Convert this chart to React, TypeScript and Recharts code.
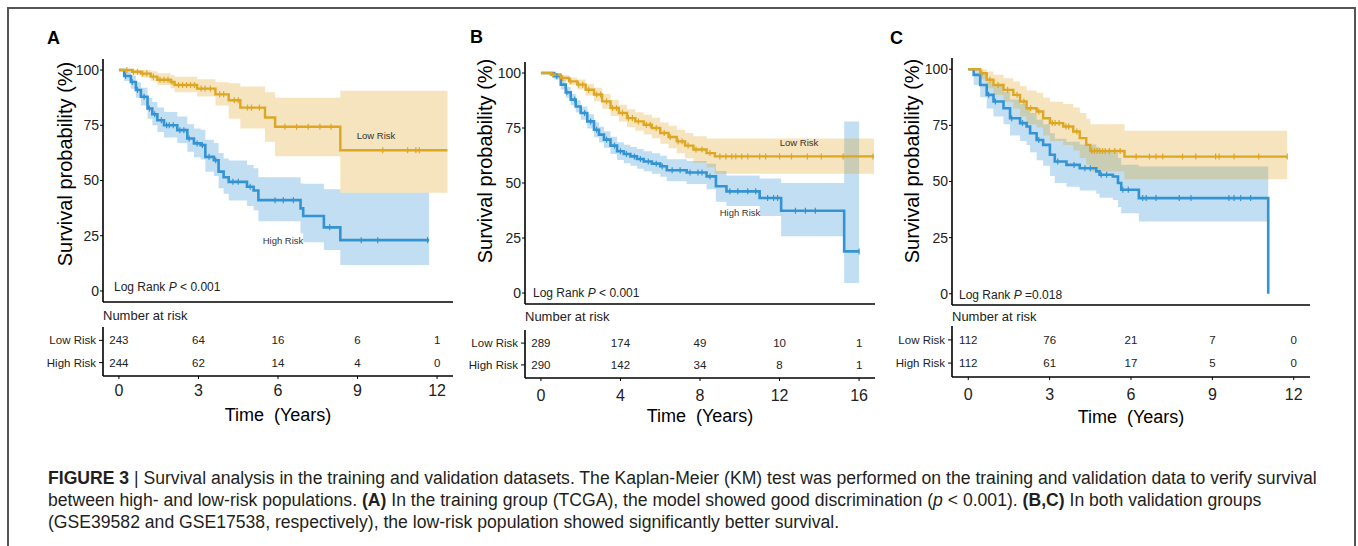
import React from 'react';
import { ComposedChart, Line, Area, Scatter, XAxis, YAxis } from 'recharts';

const GOLD = '#DDA623';
const BLUE = '#3393D3';
const INK = '#222';
const FONT = '"Liberation Sans", Arial, sans-serif';

// ---------- Panel A : TCGA training set ----------
const aLowTime = [0, 0.5, 0.83, 1.2, 1.45, 1.95, 2.1, 2.95, 3.64, 4.14, 4.58, 5.51, 5.89, 8.35, 12.39];
const aLowSurv = [100, 99.2, 98.4, 97, 95.6, 94.6, 93.2, 91.6, 89, 86.3, 83, 78.5, 74.3, 63.7, 63.7];
const aLowLower = [100, 98, 96.6, 95, 93.2, 91.8, 90, 88, 84, 78, 73.5, 67.5, 61, 44.5, 44.5];
const aLowUpper = [100, 100, 100, 99.5, 98.5, 97.8, 97, 95.8, 94.5, 94, 92.5, 90, 87.5, 90.6, 90.6];
const aLowCensor = [0.3, 0.55, 0.7, 0.9, 1.05, 1.3, 1.55, 1.7, 1.85, 2.0, 2.25, 2.4, 2.55, 2.7, 2.85, 3.1, 3.25, 3.45, 3.8, 3.95, 4.35, 4.5, 4.85, 5.0, 5.3, 6.26, 6.7, 7.14, 7.58, 8.0, 9.95, 10.89, 11.2, 11.33];

const aHighTime = [0, 0.2, 0.45, 0.64, 0.83, 1.08, 1.26, 1.45, 1.7, 2.2, 2.58, 2.83, 3.08, 3.26, 3.58, 3.76, 3.95, 4.14, 4.83, 5.08, 5.26, 6.85, 6.95, 7.73, 8.35, 11.7];
const aHighSurv = [100, 97.3, 94.6, 91, 87.9, 82.6, 80, 77.3, 75, 72.8, 69, 66.8, 66, 60.7, 59.2, 54, 51.5, 49.4, 47.2, 45.5, 41.1, 37.4, 33.9, 28.8, 23, 23];
const aHighLower = [100, 95, 91.5, 87.5, 84, 78, 75, 72, 69.5, 67, 63, 60.5, 59.5, 54, 52, 46.5, 44, 41, 38.5, 36.5, 31.5, 26, 22, 18.5, 11.8, 11.8];
const aHighUpper = [100, 99.5, 97.5, 94.5, 92, 87.5, 85.5, 83, 81, 79, 75.5, 73.5, 73, 68.5, 67, 62.5, 60, 59, 57, 55.5, 51.5, 48.7, 48.5, 46, 44.5, 44.5];
const aHighCensor = [0.25, 0.5, 0.7, 0.95, 1.15, 1.35, 1.6, 1.8, 1.9, 2.05, 2.3, 2.45, 2.65, 2.95, 3.15, 3.4, 3.65, 4.3, 4.5, 4.95, 5.89, 6.2, 6.58, 7.95, 9.14, 9.76, 11.64];

const aRiskTimes = [0, 3, 6, 9, 12];
const aRiskLow = [243, 64, 16, 6, 1];
const aRiskHigh = [244, 62, 14, 4, 0];

// ---------- Panel B : GSE39582 ----------
const bLowTime = [0, 0.5, 1.0, 1.42, 1.83, 2.25, 2.67, 3.08, 3.5, 3.92, 4.33, 4.75, 5.17, 5.58, 6.0, 6.42, 6.83, 7.25, 7.67, 8.33, 8.75, 16.75];
const bLowSurv = [100, 99.2, 97.7, 96.2, 94.7, 92.4, 90.2, 87.1, 84.1, 81.8, 79.5, 78, 76.5, 75, 72.7, 70.9, 68.9, 67, 65.2, 63.6, 62.1, 62.1];
const bLowLower = [100, 98.5, 96.5, 94.5, 92.5, 89.8, 87.2, 83.8, 80.5, 78, 75.5, 73.8, 72, 70.3, 67.8, 65.8, 63.5, 61.3, 59.2, 57.2, 54.2, 54.2];
const bLowUpper = [100, 100, 99, 98, 97, 95, 93.3, 90.5, 87.8, 85.6, 83.5, 82.2, 81, 79.7, 77.5, 76, 74.2, 72.7, 71.2, 70.2, 70.2, 70.2];
const bLowCensor = [0.6, 1.1, 1.5, 1.9, 2.1, 2.4, 2.8, 3.0, 3.3, 3.6, 3.8, 4.1, 4.4, 4.6, 4.9, 5.3, 5.5, 5.8, 6.2, 6.5, 6.9, 7.1, 7.4, 7.8, 8.1, 8.5, 9.0, 9.3, 9.6, 9.8, 10.1, 10.4, 11.0, 11.3, 12.0, 12.6, 13.4, 14.1, 15.2, 16.7];

const bHighTime = [0, 0.67, 1.0, 1.25, 1.5, 1.75, 2.0, 2.33, 2.67, 2.92, 3.17, 3.5, 3.83, 4.17, 4.5, 4.83, 5.17, 5.58, 6.0, 6.33, 7.33, 8.33, 8.8, 9.33, 11.0, 12.08, 15.25, 16.0];
const bHighSurv = [100, 98.5, 94.7, 91.2, 87.9, 84.8, 81.8, 78, 74.2, 72, 69.7, 67, 64.4, 63.2, 62.1, 60.9, 59.8, 58.8, 57.6, 55.8, 54.8, 53, 48.5, 46.2, 43.2, 37.4, 18.9, 18.9];
const bHighLower = [100, 97, 92.5, 88.8, 85.3, 82, 78.8, 74.8, 70.8, 68.4, 66, 63.2, 60.4, 59, 57.8, 56.5, 55.3, 54.2, 52.8, 50.8, 49.6, 47.2, 41.5, 39.5, 35, 25.8, 4.5, 4.5];
const bHighUpper = [100, 100, 96.8, 93.6, 90.5, 87.6, 84.8, 81.3, 77.6, 75.6, 73.5, 71, 68.5, 67.4, 66.4, 65.4, 64.4, 63.5, 62.4, 60.8, 60, 58.8, 55.5, 53.4, 52, 50, 78, 78];
const bHighCensor = [0.8, 1.3, 1.7, 2.2, 2.5, 2.8, 3.3, 3.7, 4.0, 4.3, 4.7, 5.0, 5.4, 5.8, 6.1, 6.6, 7.0, 7.5, 7.9, 8.1, 8.5, 9.5, 9.9, 10.4, 10.8, 11.4, 11.7, 11.9, 12.8, 13.3, 13.8, 16.0];

const bRiskTimes = [0, 4, 8, 12, 16];
const bRiskLow = [289, 174, 49, 10, 1];
const bRiskHigh = [290, 142, 34, 8, 1];

// ---------- Panel C : GSE17538 ----------
const cLowTime = [0, 0.44, 0.68, 0.93, 1.3, 1.66, 1.91, 2.15, 2.52, 2.76, 3.01, 3.5, 3.87, 4.11, 4.35, 4.5, 5.76, 11.76];
const cLowSurv = [100, 98.2, 95.3, 93, 90.8, 88.6, 85.6, 82.6, 81.2, 78.2, 76, 74.5, 72.3, 69.3, 66.3, 63.6, 61.1, 61.1];
const cLowLower = [100, 95.5, 91.5, 88.5, 85.5, 82.5, 79, 75.5, 74, 70.5, 68, 66.3, 63.8, 60.5, 57.5, 54.5, 51, 51];
const cLowUpper = [100, 100, 99, 97.5, 96, 94.5, 92.5, 90.5, 89.5, 87.3, 85.5, 84.5, 83, 80.5, 78, 75.5, 72.6, 72.6];
const cLowCensor = [0.5, 0.8, 1.1, 1.45, 1.8, 2.05, 2.3, 2.6, 3.1, 3.2, 3.35, 3.6, 3.7, 4.0, 4.55, 4.65, 4.75, 4.85, 4.95, 5.05, 5.2, 5.4, 5.6, 6.19, 6.68, 6.92, 7.17, 7.9, 8.39, 9.12, 9.25, 9.8, 10.71, 11.76];

const cHighTime = [0, 0.2, 0.44, 0.68, 0.93, 1.3, 1.54, 1.91, 2.15, 2.28, 2.52, 2.76, 3.01, 3.19, 3.62, 4.11, 4.72, 4.84, 5.33, 5.52, 5.64, 6.29, 11.06, 11.06];
const cHighSurv = [100, 97.5, 93, 88.6, 85.6, 82.6, 78.2, 76, 74.5, 71.5, 68.5, 66.3, 61.9, 58.9, 57.4, 55.9, 54.5, 53, 52.2, 49.3, 46.3, 42.6, 42.6, 0];
const cHighLower = [100, 93, 87.5, 82.5, 79, 75.5, 70.5, 68, 66.3, 63, 59.5, 57, 52.5, 49.3, 47.7, 46, 44.5, 42.8, 41.8, 38.6, 35.9, 32.2, 32.2, 32.2];
const cHighUpper = [100, 100, 98, 94.5, 92.5, 90, 86.5, 84.5, 83, 80.5, 77.5, 75.5, 71.5, 69, 67.7, 66.5, 65.3, 64, 63, 60.5, 57.5, 56.7, 56.7, 56.7];
const cHighCensor = [0.75, 1.0, 1.6, 2.0, 2.6, 3.3, 3.9, 4.3, 4.5, 4.9, 5.1, 5.7, 5.9, 6.43, 6.56, 6.92, 7.78, 8.21, 9.61, 9.8, 10.04, 10.41];

const cRiskTimes = [0, 3, 6, 9, 12];
const cRiskLow = [112, 76, 21, 7, 0];
const cRiskHigh = [112, 61, 17, 5, 0];

const riskGroups = ['Low Risk', 'High Risk'];

type Curve = { time: number[]; surv: number[]; lower: number[]; upper: number[]; censor: number[] };

const stepRows = (c: Curve) =>
  c.time.map((t, i) => ({ t, s: c.surv[i], ci: [c.lower[i], c.upper[i]] }));

// censor marks sit on the curve: look up the step value at that time
const censorRows = (c: Curve) =>
  c.censor.map((t) => {
    let i = 0;
    while (i + 1 < c.time.length && c.time[i + 1] <= t) i++;
    return { t, s: c.surv[i] };
  });

const censorShape = (color: string) => (props: any) => (
  <line x1={props.cx} x2={props.cx} y1={props.cy - 3} y2={props.cy + 3} stroke={color} strokeWidth={1.2} />
);

const countShape = (props: any) => (
  <text x={props.cx} y={props.cy} textAnchor="middle" dominantBaseline="central" fontSize={11.5} fill={INK}>
    {props.payload.n}
  </text>
);

const panels = [
  {
    letter: 'A', low: { time: aLowTime, surv: aLowSurv, lower: aLowLower, upper: aLowUpper, censor: aLowCensor },
    high: { time: aHighTime, surv: aHighSurv, lower: aHighLower, upper: aHighUpper, censor: aHighCensor },
    riskTimes: aRiskTimes, riskLow: aRiskLow, riskHigh: aRiskHigh, xMax: 12, pVal: 'P', pText: ' < 0.001',
    geo: { axisX: 103, right: 453, plotTop: 59, plotBottom: 302, boxTop: 327, boxBottom: 376, tickGap: 6, timeY: 415,
      letterX: 47, letterY: 38, yLabX: 65, yLabY: 164, narY: 315, lrX: 114, lrY: 287,
      lowLab: [376, 135], highLab: [283, 240] },
  },
  {
    letter: 'B', low: { time: bLowTime, surv: bLowSurv, lower: bLowLower, upper: bLowUpper, censor: bLowCensor },
    high: { time: bHighTime, surv: bHighSurv, lower: bHighLower, upper: bHighUpper, censor: bHighCensor },
    riskTimes: bRiskTimes, riskLow: bRiskLow, riskHigh: bRiskHigh, xMax: 16, pVal: 'P', pText: ' < 0.001',
    geo: { axisX: 525, right: 875, plotTop: 62, plotBottom: 304, boxTop: 330, boxBottom: 378, tickGap: 9, timeY: 416,
      letterX: 470, letterY: 37, yLabX: 485, yLabY: 161, narY: 316, lrX: 533, lrY: 293,
      lowLab: [799, 142], highLab: [740, 212] },
  },
  {
    letter: 'C', low: { time: cLowTime, surv: cLowSurv, lower: cLowLower, upper: cLowUpper, censor: cLowCensor },
    high: { time: cHighTime, surv: cHighSurv, lower: cHighLower, upper: cHighUpper, censor: cHighCensor },
    riskTimes: cRiskTimes, riskLow: cRiskLow, riskHigh: cRiskHigh, xMax: 12, pVal: 'P', pText: ' =0.018',
    geo: { axisX: 952, right: 1310, plotTop: 58, plotBottom: 305, boxTop: 326, boxBottom: 377, tickGap: 9, timeY: 417,
      letterX: 890, letterY: 38, yLabX: 912, yLabY: 161, narY: 316, lrX: 959, lrY: 295,
      lowLab: null, highLab: null },
  },
];

const axisStyle = { stroke: '#000', strokeWidth: 1.6 };

function KmPlot({ p }: { p: any }) {
  const g = p.geo;
  const yw = 45;
  const left = g.axisX - yw;
  const width = g.right - left + 6;
  const height = g.plotBottom + 8;
  const pad = p.xMax * 0.05;
  const ticks = p.riskTimes;
  const lowRows = stepRows(p.low);
  const highRows = stepRows(p.high);
  return (
    <div style={{ position: 'absolute', left, top: 0 }}>
      <ComposedChart width={width} height={height} margin={{ top: g.plotTop, right: 6, bottom: 2, left: 0 }}>
        <XAxis type="number" dataKey="t" domain={[-pad, p.xMax + pad]} ticks={ticks} tick={false}
          tickSize={4} height={6} axisLine={axisStyle} tickLine={{ stroke: '#000' }} allowDataOverflow />
        <YAxis type="number" dataKey="s" domain={[-5, 105]} ticks={[0, 25, 50, 75, 100]} width={yw}
          tickSize={3} tickMargin={1} tick={{ fontSize: 14, fill: INK }} axisLine={axisStyle}
          tickLine={{ stroke: '#000' }} allowDataOverflow />
        <Area data={highRows} dataKey="ci" type="stepAfter" fill={BLUE} fillOpacity={0.3} stroke="none" isAnimationActive={false} />
        <Area data={lowRows} dataKey="ci" type="stepAfter" fill={GOLD} fillOpacity={0.3} stroke="none" isAnimationActive={false} />
        <Line data={highRows} dataKey="s" type="stepAfter" stroke={BLUE} strokeWidth={2.6} dot={false} isAnimationActive={false} />
        <Line data={lowRows} dataKey="s" type="stepAfter" stroke={GOLD} strokeWidth={2.4} dot={false} isAnimationActive={false} />
        <Scatter data={censorRows(p.high)} shape={censorShape(BLUE)} isAnimationActive={false} />
        <Scatter data={censorRows(p.low)} shape={censorShape(GOLD)} isAnimationActive={false} />
      </ComposedChart>
    </div>
  );
}

function RiskTable({ p }: { p: any }) {
  const g = p.geo;
  const yw = 100;
  const left = g.axisX - yw;
  const width = g.right - left + 6;
  const axisH = 58;
  const height = g.boxBottom - g.boxTop + axisH + 2;
  const pad = p.xMax * 0.05;
  const lowRows = p.riskTimes.map((t: number, i: number) => ({ t, row: 2, n: p.riskLow[i] }));
  const highRows = p.riskTimes.map((t: number, i: number) => ({ t, row: 1, n: p.riskHigh[i] }));
  const labelOffset = g.boxBottom + axisH - (g.timeY + 6.4);
  return (
    <div style={{ position: 'absolute', left, top: g.boxTop }}>
      <ComposedChart width={width} height={height} margin={{ top: 0, right: 6, bottom: 2, left: 0 }}>
        <XAxis type="number" dataKey="t" domain={[-pad, p.xMax + pad]} ticks={p.riskTimes} height={axisH}
          tickSize={3} tickMargin={g.tickGap} tick={{ fontSize: 16, fill: INK }} axisLine={axisStyle}
          tickLine={{ stroke: '#000' }} allowDataOverflow
          label={{ value: 'Time\u00A0 (Years)', position: 'insideBottom', offset: labelOffset, fontSize: 18, fill: '#000' }} />
        <YAxis type="number" dataKey="row" domain={[0.4, 2.6]} ticks={[1, 2]} width={yw}
          tickFormatter={(v: number) => riskGroups[2 - v]} tickSize={4} tickMargin={3}
          tick={{ fontSize: 11.5, fill: INK }} axisLine={axisStyle} tickLine={{ stroke: '#000' }} allowDataOverflow />
        <Scatter data={lowRows} shape={countShape} isAnimationActive={false} />
        <Scatter data={highRows} shape={countShape} isAnimationActive={false} />
      </ComposedChart>
    </div>
  );
}

function Overlay() {
  return (
    <svg width={1358} height={546} style={{ position: 'absolute', left: 0, top: 0, pointerEvents: 'none' }}>
      {panels.map((p) => {
        const g = p.geo;
        return (
          <g key={p.letter}>
            <text x={g.letterX} y={g.letterY} dominantBaseline="central" fontSize={18} fontWeight="bold" fill="#000">{p.letter}</text>
            <text x={g.yLabX} y={g.yLabY} textAnchor="middle" dominantBaseline="central" fontSize={20} fill="#000"
              transform={`rotate(-90 ${g.yLabX} ${g.yLabY})`}>Survival probability (%)</text>
            <text x={g.axisX} y={g.narY} dominantBaseline="central" fontSize={13} fill={INK}>Number at risk</text>
            <text x={g.lrX} y={g.lrY} dominantBaseline="central" fontSize={12} fill={INK}>
              Log Rank <tspan fontStyle="italic">{p.pVal}</tspan>{p.pText}
            </text>
            {g.lowLab && (
              <text x={g.lowLab[0]} y={g.lowLab[1]} textAnchor="middle" dominantBaseline="central" fontSize={9.5} fill="#333">Low Risk</text>
            )}
            {g.highLab && (
              <text x={g.highLab[0]} y={g.highLab[1]} textAnchor="middle" dominantBaseline="central" fontSize={9.5} fill="#333">High Risk</text>
            )}
          </g>
        );
      })}
      <g fontSize={17.6} fill="#231f20">
        <text x={48} y={478} dominantBaseline="central">
          <tspan fontWeight="bold">FIGURE 3</tspan> | Survival analysis in the training and validation datasets. The Kaplan-Meier (KM) test was performed on the training and validation data to verify survival
        </text>
        <text x={48} y={500} dominantBaseline="central">
          between high- and low-risk populations. <tspan fontWeight="bold">(A)</tspan> In the training group (TCGA), the model showed good discrimination (<tspan fontStyle="italic">p</tspan> {'<'} 0.001). <tspan fontWeight="bold">(B,C)</tspan> In both validation groups
        </text>
        <text x={48} y={522} dominantBaseline="central">
          (GSE39582 and GSE17538, respectively), the low-risk population showed significantly better survival.
        </text>
      </g>
    </svg>
  );
}

export default function App() {
  return (
    <div style={{ position: 'absolute', left: 0, top: 0, width: 1358, height: 546, overflow: 'hidden', background: '#fff', fontFamily: FONT }}>
      <div style={{ position: 'absolute', left: 7, top: 7, width: 1349, height: 600, border: '2px solid #555', boxSizing: 'border-box' }} />
      {panels.map((p) => (
        <React.Fragment key={p.letter}>
          <KmPlot p={p} />
          <RiskTable p={p} />
        </React.Fragment>
      ))}
      <Overlay />
    </div>
  );
}
